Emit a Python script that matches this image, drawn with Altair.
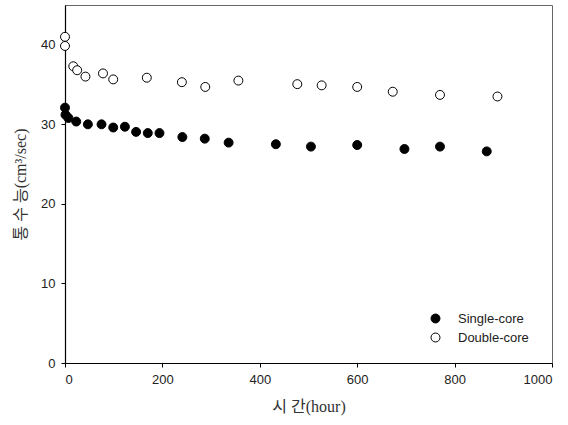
import altair as alt
import pandas as pd

single_hours = [0, 1, 7, 23, 47, 75, 99, 123, 146, 170, 194, 241, 287, 336, 433, 505, 600, 697, 770, 866]
single_vals = [32.1, 31.2, 30.8, 30.35, 30.0, 30.0, 29.6, 29.7, 29.05, 28.9, 28.9, 28.4, 28.2, 27.7, 27.5, 27.2, 27.4, 26.9, 27.2, 26.6]

double_hours = [0, 0, 17, 25, 42, 78, 99, 168, 240, 288, 356, 477, 527, 600, 673, 770, 888]
double_vals = [41.0, 39.85, 37.3, 36.8, 36.0, 36.4, 35.65, 35.86, 35.3, 34.7, 35.5, 35.05, 34.9, 34.7, 34.1, 33.7, 33.5]

series_names = ["Single-core", "Double-core"]

df = pd.concat([
    pd.DataFrame({"hour": single_hours, "value": single_vals, "series": series_names[0]}),
    pd.DataFrame({"hour": double_hours, "value": double_vals, "series": series_names[1]}),
])

title_font = "Liberation Serif, Noto Sans CJK KR"
tick_font = "Liberation Sans"

chart = alt.Chart(df).mark_point(
    shape="circle", filled=True, size=80, stroke="black", strokeWidth=1, opacity=1
).encode(
    x=alt.X("hour:Q", scale=alt.Scale(domain=[0, 1000], nice=False, zero=False),
            axis=alt.Axis(values=[0, 200, 400, 600, 800, 1000], format="d",
                          title="시 간(hour)", grid=False)),
    y=alt.Y("value:Q", scale=alt.Scale(domain=[0, 45], nice=False),
            axis=alt.Axis(values=[0, 10, 20, 30, 40], format="d",
                          title="통 수 능(cm³/sec)", grid=False)),
    fill=alt.Fill("series:N", scale=alt.Scale(domain=series_names, range=["black", "white"]),
                  legend=alt.Legend(title=None, orient="none", legendX=364, legendY=307,
                                    symbolType="circle", symbolSize=80, symbolStrokeColor="black",
                                    symbolStrokeWidth=1, labelFont=tick_font, labelFontSize=13,
                                    labelColor="#222", labelOffset=16, rowPadding=5, padding=0)),
).properties(
    width=487, height=358,
    autosize=alt.AutoSizeParams(type="none"),
    padding={"left": 65, "top": 5, "right": 16, "bottom": 62},
).configure_view(
    stroke="#666", strokeWidth=1
).configure_axis(
    domainColor="black", domainWidth=1.2, tickColor="black", tickSize=4,
    labelFont=tick_font, labelFontSize=13, labelColor="#222", labelPadding=6,
    titleFont=title_font, titleFontSize=16, titleFontWeight="normal", titleColor="#333",
).configure_axisX(
    titlePadding=12
).configure_axisY(
    titlePadding=12
)

chart.save("out.html", embed_options={"renderer": "svg", "actions": False})
